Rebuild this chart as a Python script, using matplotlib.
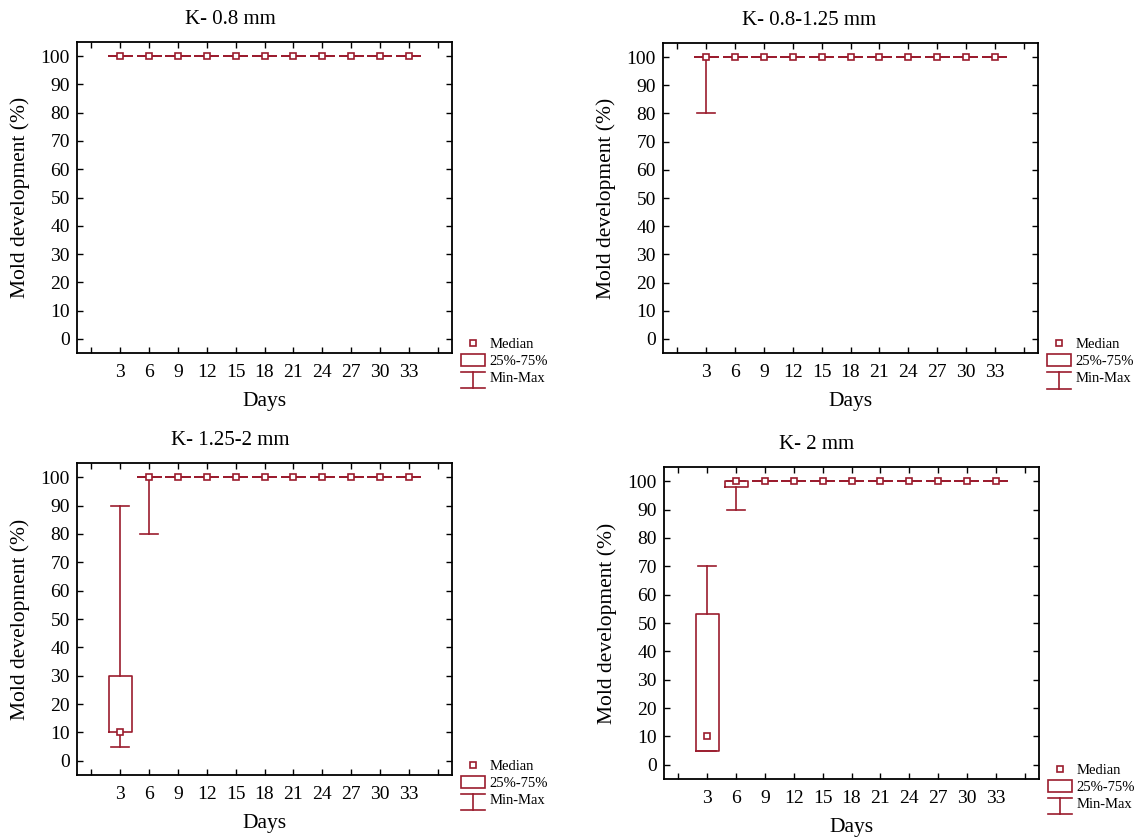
import matplotlib
matplotlib.use("Agg")
import matplotlib.pyplot as plt
from matplotlib.lines import Line2D
from matplotlib.patches import Rectangle
from matplotlib.legend_handler import HandlerBase

plt.rcParams['font.family'] = ['Liberation Serif', 'DejaVu Serif']

# Dias de avaliação
days = [3, 6, 9, 12, 15, 18, 21, 24, 27, 30, 33]

titles = ["K- 0.8 mm", "K- 0.8-1.25 mm", "K- 1.25-2 mm", "K- 2 mm"]

# Mediana, quartis e min/max por painel (%)
med_08 = [100] * 11
q1_08 = [100] * 11
q3_08 = [100] * 11
min_08 = [100] * 11
max_08 = [100] * 11

med_08_125 = [100] * 11
q1_08_125 = [100] * 11
q3_08_125 = [100] * 11
min_08_125 = [80] + [100] * 10
max_08_125 = [100] * 11

med_125_2 = [10] + [100] * 10
q1_125_2 = [10] + [100] * 10
q3_125_2 = [30] + [100] * 10
min_125_2 = [5, 80] + [100] * 9
max_125_2 = [90] + [100] * 10

med_2 = [10] + [100] * 10
q1_2 = [5, 98] + [100] * 9
q3_2 = [53] + [100] * 10
min_2 = [5, 90] + [100] * 9
max_2 = [70] + [100] * 10

paineis = [
    (med_08, q1_08, q3_08, min_08, max_08),
    (med_08_125, q1_08_125, q3_08_125, min_08_125, max_08_125),
    (med_125_2, q1_125_2, q3_125_2, min_125_2, max_125_2),
    (med_2, q1_2, q3_2, min_2, max_2),
]

cor = '#9b1c2e'
W, H = 1147, 839

# posições dos eixos em pixels: esquerda, topo, direita, baixo
caixas = [(77, 42, 452, 353), (663, 43, 1038, 353),
          (77, 463, 452, 775), (664, 467, 1039, 779)]
titulo_x = [0.408, 0.39, 0.408, 0.408]


class HandlerMinMax(HandlerBase):
    # símbolo em "I" para Min-Max
    def create_artists(self, legend, orig_handle, xdescent, ydescent,
                       width, height, fontsize, trans):
        x0, x1 = -xdescent, -xdescent + width
        xm = (x0 + x1) / 2
        y0, y1 = -ydescent - 0.5 * height, -ydescent + 0.95 * height
        kw = dict(color=cor, lw=1.2, transform=trans)
        return [Line2D([x0, x1], [y1, y1], **kw),
                Line2D([x0, x1], [y0, y0], **kw),
                Line2D([xm, xm], [y0, y1], **kw)]


fig = plt.figure(figsize=(W / 100, H / 100), dpi=100)

for i, (med, q1, q3, vmin, vmax) in enumerate(paineis):
    l, t, r, b = caixas[i]
    ax = fig.add_axes([l / W, 1 - b / H, (r - l) / W, (b - t) / H])

    pos = list(range(1, len(days) + 1))
    stats = [dict(med=m, q1=a, q3=c, whislo=lo, whishi=hi)
             for m, a, c, lo, hi in zip(med, q1, q3, vmin, vmax)]
    ax.bxp(stats, positions=pos, widths=0.8, capwidths=0.62,
           showfliers=False, manage_ticks=False, patch_artist=False,
           boxprops=dict(color=cor, lw=1.2),
           whiskerprops=dict(color=cor, lw=1.2),
           capprops=dict(color=cor, lw=1.2),
           medianprops=dict(linestyle='none'))
    ax.plot(pos, med, 's', ls='none', mfc='white', mec=cor, mew=1.2, ms=4.2, zorder=5)

    ax.set_xlim(-0.5, 12.5)
    ax.set_ylim(-5, 105)
    ax.set_xticks(range(13))
    ax.set_xticklabels([''] + [str(d) for d in days] + [''])
    ax.set_yticks(range(0, 101, 10))
    ax.tick_params(direction='in', top=True, right=True, length=4, width=1,
                   labelsize=14)
    ax.tick_params(axis='x', pad=8)
    ax.tick_params(axis='y', pad=5)
    for s in ax.spines.values():
        s.set_linewidth(1.3)

    ax.set_title(titles[i], fontsize=15, x=titulo_x[i], pad=13)
    ax.set_xlabel('Days', fontsize=15.5)
    ax.set_ylabel('Mold development (%)', fontsize=15.5)
    ax.yaxis.set_label_coords(-0.125, 0.5)
    ax.xaxis.set_label_coords(0.5, -0.125)

    h_med = Line2D([], [], marker='s', ls='none', mfc='white', mec=cor, mew=1.2, ms=4)
    h_box = Rectangle((0, 0), 1, 1, facecolor='white', edgecolor=cor, lw=1.2)
    h_mm = Line2D([], [], color=cor)
    ax.legend([h_med, h_box, h_mm], ['Median', '25%-75%', 'Min-Max'],
              handler_map={h_mm: HandlerMinMax()},
              loc='upper left', bbox_to_anchor=(1.025, 0.05), frameon=False,
              fontsize=10.5, handlelength=1.6, handleheight=0.85,
              handletextpad=0.35, labelspacing=0.2, borderpad=0, borderaxespad=0)

fig.savefig('out.png', dpi=100)
